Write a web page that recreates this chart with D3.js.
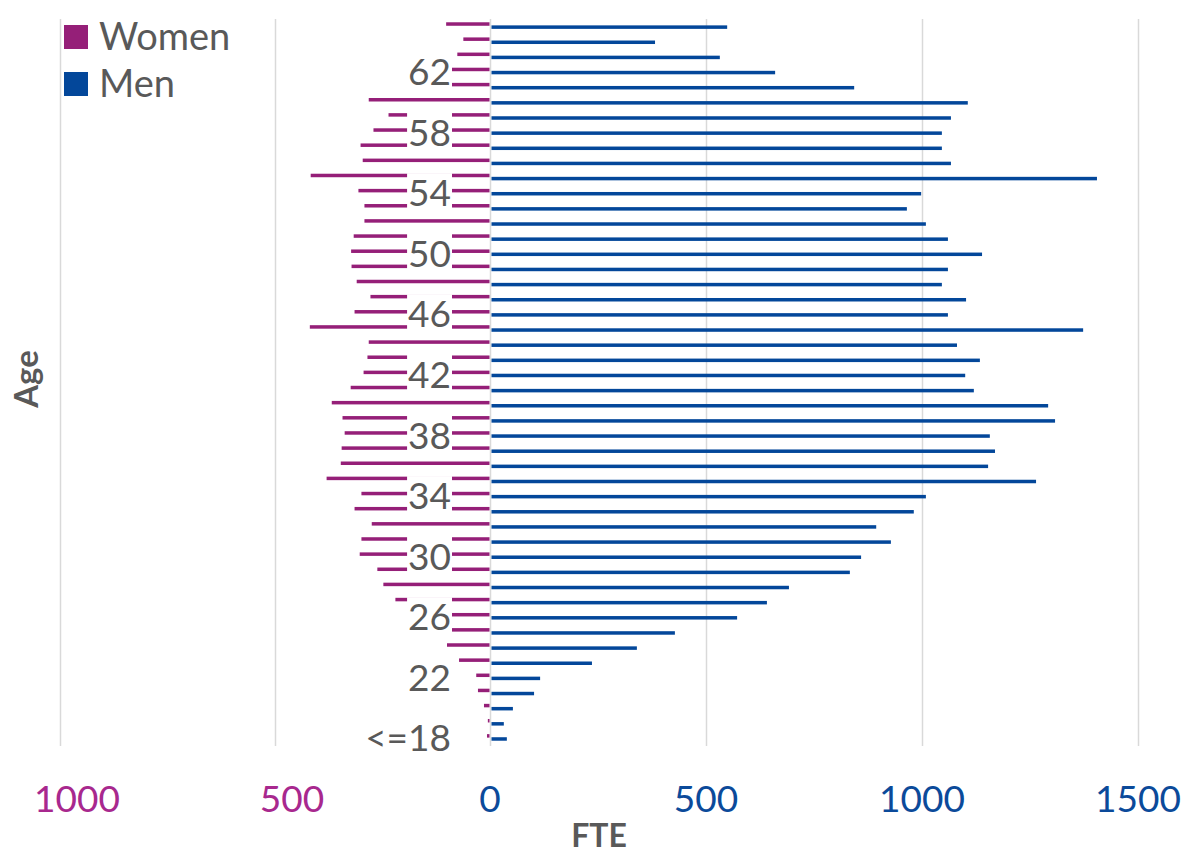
<!DOCTYPE html>
<html>
<head>
<meta charset="utf-8">
<script src="https://cdn.jsdelivr.net/npm/d3@7"></script>
<style>
  body { margin: 0; background: #fff; }
  svg { font-family: Lato, "Open Sans", sans-serif; }
</style>
</head>
<body>
<div id="chart"></div>
<script>
// Age groups, youngest first
const ages = ["<=18", "19", "20", "21", "22", "23", "24", "25", "26", "27", "28", "29", "30",
  "31", "32", "33", "34", "35", "36", "37", "38", "39", "40", "41", "42", "43", "44", "45",
  "46", "47", "48", "49", "50", "51", "52", "53", "54", "55", "56", "57", "58", "59", "60",
  "61", "62", "63", "64", "65"];

// FTE per age, same order as ages
const women = [7, 5, 14, 28, 32, 72, 100, 120, 150, 220, 248, 262, 303,
  299, 275, 315, 299, 380, 347, 345, 338, 343, 368, 324, 294, 285, 282, 419,
  315, 278, 310, 322, 323, 317, 292, 292, 306, 417, 296, 301, 271, 236, 282,
  160, 120, 76, 62, 102];
const men = [39, 32, 53, 102, 116, 236, 340, 428, 572, 641, 692, 833, 859,
  928, 894, 981, 1009, 1264, 1153, 1169, 1157, 1308, 1292, 1120, 1100, 1134, 1081, 1373,
  1060, 1102, 1046, 1060, 1139, 1060, 1009, 965, 998, 1405, 1067, 1046, 1046, 1067, 1106,
  843, 660, 532, 382, 549];

const ageLabels = ["<=18", "22", "26", "30", "34", "38", "42", "46", "50", "54", "58", "62"];
const menTicks = [0, 500, 1000, 1500];
const womenTicks = [500, 1000];

const width = 1184, height = 855;
const zeroX = 490, plotTop = 19, plotBottom = 746;

const womenColor = "#951f78", menColor = "#03479a";
const textColor = "#595959";

const svg = d3.select("#chart").append("svg")
  .attr("width", width).attr("height", height);

// Scales: men grow to the right, women to the left, same units
const xMen = d3.scaleLinear().domain([0, 1500]).range([zeroX, 1138]);
const xWomen = d3.scaleLinear().domain([0, 1000]).range([zeroX, 60]);
const y = d3.scaleBand().domain(ages.slice().reverse()).range([plotTop, plotBottom]);

const rows = ages.map((a, i) => ({ age: a, w: women[i], m: men[i] }));

// Gridlines
svg.append("g")
  .attr("transform", `translate(0,${plotBottom})`)
  .call(d3.axisBottom(xMen).tickValues(menTicks).tickSize(-(plotBottom - plotTop)).tickFormat(""));
svg.append("g")
  .attr("transform", `translate(0,${plotBottom})`)
  .call(d3.axisBottom(xWomen).tickValues(womenTicks).tickSize(-(plotBottom - plotTop)).tickFormat(""));
svg.selectAll(".domain").remove();
svg.selectAll(".tick line").attr("stroke", "#d9d9d9").attr("stroke-width", 1.5);

// Bars
const barH = 3.5;
svg.append("g").selectAll("rect")
  .data(rows).join("rect")
  .attr("x", d => xWomen(d.w))
  .attr("y", d => y(d.age) + y.bandwidth() / 2 - 4.3)
  .attr("width", d => zeroX - 0.5 - xWomen(d.w))
  .attr("height", barH)
  .attr("fill", womenColor);

svg.append("g").selectAll("rect")
  .data(rows).join("rect")
  .attr("x", zeroX + 1.5)
  .attr("y", d => y(d.age) + y.bandwidth() / 2 - 1.2)
  .attr("width", d => xMen(d.m) - zeroX - 1.5)
  .attr("height", barH)
  .attr("fill", menColor);

// Age labels sit on white boxes over the women bars
const labelX = 451;
const lab = svg.append("g").selectAll("g")
  .data(ageLabels).join("g")
  .attr("transform", d => `translate(${labelX},${y(d) + y.bandwidth() / 2})`);
lab.append("text")
  .attr("text-anchor", "end")
  .attr("y", 13)
  .attr("font-size", 37)
  .attr("fill", textColor)
  .text(d => d);
lab.each(function () {
  const g = d3.select(this);
  const bb = g.select("text").node().getBBox();
  g.insert("rect", "text")
    .attr("x", bb.x - 1).attr("y", -20)
    .attr("width", bb.width + 2).attr("height", 40)
    .attr("fill", "#fff");
});

// Bottom tick labels
svg.append("g").selectAll("text")
  .data(menTicks).join("text")
  .attr("x", d => xMen(d))
  .attr("y", 812)
  .attr("text-anchor", "middle")
  .attr("font-size", 37)
  .attr("fill", "#0b4a9a")
  .text(d => d);
svg.append("g").selectAll("text")
  .data(womenTicks).join("text")
  .attr("x", d => xWomen(d) + 17)
  .attr("y", 812)
  .attr("text-anchor", "middle")
  .attr("font-size", 37)
  .attr("fill", "#a8288e")
  .text(d => d);

// Axis titles
svg.append("text")
  .attr("x", 599).attr("y", 847)
  .attr("text-anchor", "middle")
  .attr("font-size", 32).attr("font-weight", "bold")
  .attr("fill", textColor)
  .text("FTE");
svg.append("text")
  .attr("transform", "translate(38,379) rotate(-90)")
  .attr("text-anchor", "middle")
  .attr("font-size", 33).attr("font-weight", "bold")
  .attr("fill", textColor)
  .text("Age");

// Legend
const legend = [{ name: "Women", color: womenColor }, { name: "Men", color: menColor }];
const lg = svg.append("g").selectAll("g")
  .data(legend).join("g")
  .attr("transform", (d, i) => `translate(64,${25 + i * 47})`);
lg.append("rect").attr("width", 24).attr("height", 24).attr("fill", d => d.color);
lg.append("text")
  .attr("x", 35).attr("y", 25)
  .attr("font-size", 38)
  .attr("fill", textColor)
  .text(d => d.name);
</script>
</body>
</html>
